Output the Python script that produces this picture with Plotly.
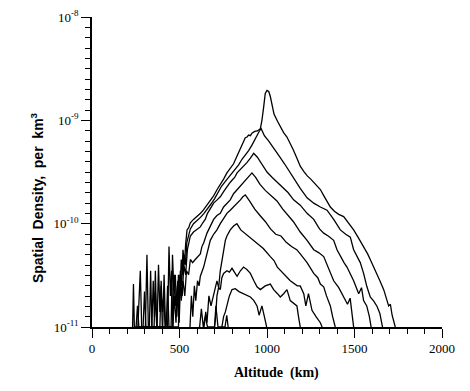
import plotly.graph_objects as go

# ---- data (altitude km, spatial density per km^3) ----
alt_1 = [232, 237, 242, 305, 314, 322, 372, 380, 388, 395, 402, 432, 440, 448, 455, 462, 470, 480, 490, 498,
         505, 512, 520, 528, 535, 543, 552, 562, 580, 600, 620, 636, 655, 676, 695, 715, 735, 752, 771, 790,
         809, 830, 850, 866, 876, 886, 895, 905, 914, 930, 945, 962, 971, 981, 990, 1000, 1010, 1019, 1030, 1040,
         1060, 1076, 1095, 1114, 1135, 1150, 1171, 1190, 1210, 1230, 1250, 1275, 1305, 1325, 1343, 1362, 1385, 1410, 1438, 1465,
         1495, 1520, 1552, 1575, 1590, 1610, 1629, 1645, 1667, 1680, 1695, 1705, 1715, 1733]
dens_1 = [1.0e-11, 2.6e-11, 1.0e-11, 1.0e-11, 5.0e-11, 1.0e-11, 1.0e-11, 4.0e-11, 1.4e-11, 2.5e-11, 1.0e-11, 1.0e-11, 6.0e-11, 2.0e-11, 3.5e-11, 1.0e-11, 2.0e-11, 1.1e-11, 2.8e-11, 1.6e-11,
          3.5e-11, 2.5e-11, 5.6e-11, 4.0e-11, 6.3e-11, 8.7e-11, 9.1e-11, 1.02e-10, 1.1e-10, 1.17e-10, 1.26e-10, 1.35e-10, 1.5e-10, 1.7e-10, 1.86e-10, 2.14e-10, 2.4e-10, 2.7e-10, 3.1e-10, 3.47e-10,
          3.8e-10, 4.57e-10, 5.5e-10, 6.2e-10, 6.8e-10, 6.9e-10, 7.2e-10, 7.1e-10, 7.5e-10, 7.8e-10, 7.9e-10, 8.3e-10, 1.0e-9, 1.35e-9, 1.82e-9, 1.95e-9, 1.9e-9, 1.7e-9, 1.35e-9, 1.15e-9,
          9.8e-10, 8.7e-10, 7.6e-10, 6.9e-10, 5.9e-10, 5.2e-10, 4.3e-10, 3.6e-10, 3.2e-10, 2.9e-10, 2.7e-10, 2.45e-10, 2.14e-10, 1.86e-10, 1.66e-10, 1.45e-10, 1.32e-10, 1.23e-10, 1.17e-10, 1.02e-10,
          8.7e-11, 7.4e-11, 6.0e-11, 5.1e-11, 4.5e-11, 3.8e-11, 3.3e-11, 2.8e-11, 2.3e-11, 1.9e-11, 1.6e-11, 1.66e-11, 1.3e-11, 1.0e-11]

alt_2 = [262, 268, 276, 284, 342, 350, 357, 362, 370, 404, 412, 420, 452, 460, 468, 476, 485, 494, 502, 510,
         518, 526, 534, 542, 552, 562, 580, 600, 620, 640, 660, 680, 700, 720, 740, 762, 780, 800, 820, 838,
         857, 876, 895, 914, 930, 943, 955, 967, 985, 1010, 1040, 1070, 1100, 1130, 1160, 1190, 1229, 1267, 1305, 1343,
         1381, 1419, 1450, 1476, 1495, 1533, 1552, 1571, 1590, 1610, 1629, 1645, 1660]
dens_2 = [1.0e-11, 1.8e-11, 3.5e-11, 1.0e-11, 1.0e-11, 2.8e-11, 1.26e-11, 2.2e-11, 1.0e-11, 1.0e-11, 3.2e-11, 1.0e-11, 1.0e-11, 5.0e-11, 2.2e-11, 3.2e-11, 1.26e-11, 3.2e-11, 2.0e-11, 4.5e-11,
          3.2e-11, 5.0e-11, 4.0e-11, 6.6e-11, 7.9e-11, 8.9e-11, 1.0e-10, 1.07e-10, 1.15e-10, 1.26e-10, 1.38e-10, 1.55e-10, 1.74e-10, 2.0e-10, 2.3e-10, 2.57e-10, 2.8e-10, 3.1e-10, 3.4e-10, 3.7e-10,
          4.2e-10, 4.6e-10, 5.1e-10, 5.75e-10, 6.5e-10, 7.2e-10, 7.8e-10, 8.3e-10, 7.1e-10, 6.3e-10, 5.25e-10, 4.5e-10, 3.8e-10, 3.16e-10, 2.63e-10, 2.2e-10, 1.78e-10, 1.58e-10, 1.45e-10, 1.35e-10,
          1.1e-10, 8.7e-11, 7.9e-11, 7.4e-11, 5.6e-11, 4.2e-11, 3.3e-11, 2.45e-11, 1.95e-11, 1.78e-11, 1.58e-11, 1.35e-11, 1.0e-11]

alt_3 = [292, 300, 308, 328, 335, 342, 388, 395, 402, 410, 418, 462, 470, 478, 488, 498, 506, 515, 525, 535,
         545, 555, 562, 580, 600, 619, 633, 647, 660, 675, 695, 715, 733, 752, 771, 785, 800, 815, 829, 845,
         866, 885, 905, 924, 945, 970, 1000, 1030, 1060, 1090, 1120, 1152, 1190, 1229, 1267, 1300, 1324, 1350, 1381, 1400,
         1419, 1440, 1457, 1480, 1495, 1524, 1540, 1552, 1570, 1585, 1595]
dens_3 = [1.0e-11, 2.2e-11, 1.0e-11, 1.0e-11, 3.5e-11, 1.0e-11, 1.0e-11, 2.8e-11, 1.4e-11, 2.0e-11, 1.0e-11, 1.0e-11, 3.2e-11, 1.6e-11, 2.5e-11, 1.1e-11, 2.8e-11, 2.0e-11, 4.0e-11, 3.2e-11,
          5.6e-11, 6.6e-11, 7.6e-11, 8.3e-11, 8.9e-11, 9.3e-11, 1.02e-10, 1.1e-10, 1.26e-10, 1.38e-10, 1.58e-10, 1.7e-10, 1.82e-10, 2.04e-10, 2.3e-10, 2.45e-10, 2.63e-10, 2.8e-10, 3.1e-10, 3.3e-10,
          3.55e-10, 3.9e-10, 4.3e-10, 4.8e-10, 4.4e-10, 3.8e-10, 3.16e-10, 2.8e-10, 2.5e-10, 2.24e-10, 2.0e-10, 1.7e-10, 1.51e-10, 1.26e-10, 1.1e-10, 8.9e-11, 8.1e-11, 7.6e-11, 6.9e-11, 5.6e-11,
          4.8e-11, 4.2e-11, 3.8e-11, 3.2e-11, 2.8e-11, 2.1e-11, 2.4e-11, 1.8e-11, 1.6e-11, 1.26e-11, 1.0e-11]

alt_4 = [252, 260, 268, 355, 362, 370, 424, 432, 440, 494, 502, 510, 520, 530, 540, 552, 562, 575, 590, 600,
         610, 619, 628, 638, 657, 676, 695, 714, 733, 752, 771, 790, 809, 830, 848, 866, 886, 900, 914, 935,
         960, 990, 1020, 1057, 1090, 1120, 1150, 1190, 1229, 1267, 1295, 1324, 1350, 1381, 1410, 1438, 1460, 1475, 1486, 1495]
dens_4 = [1.0e-11, 1.6e-11, 1.0e-11, 1.0e-11, 3.5e-11, 1.0e-11, 1.0e-11, 2.5e-11, 1.0e-11, 1.0e-11, 3.2e-11, 1.8e-11, 2.8e-11, 2.0e-11, 3.5e-11, 3.2e-11, 4.5e-11, 4.2e-11, 4.5e-11, 4.7e-11,
          5.0e-11, 5.1e-11, 6.0e-11, 6.5e-11, 8.1e-11, 9.3e-11, 1.1e-10, 1.2e-10, 1.26e-10, 1.45e-10, 1.58e-10, 1.7e-10, 1.95e-10, 2.14e-10, 2.3e-10, 2.5e-10, 2.75e-10, 2.95e-10, 3.1e-10, 2.8e-10,
          2.4e-10, 2.1e-10, 1.9e-10, 1.66e-10, 1.38e-10, 1.2e-10, 1.05e-10, 8.3e-11, 6.9e-11, 5.6e-11, 5.25e-11, 4.8e-11, 3.8e-11, 2.8e-11, 2.4e-11, 1.95e-11, 1.66e-11, 1.9e-11, 1.35e-11, 1.0e-11]

alt_5 = [560, 568, 576, 585, 593, 603, 612, 619, 638, 657, 676, 695, 714, 733, 752, 771, 790, 809, 830, 848,
         862, 876, 900, 930, 960, 990, 1020, 1050, 1080, 1110, 1140, 1170, 1190, 1229, 1267, 1290, 1305, 1324, 1340, 1362,
         1375, 1390]
dens_5 = [1.0e-11, 2.0e-11, 1.26e-11, 2.5e-11, 1.8e-11, 2.8e-11, 2.5e-11, 3.1e-11, 3.8e-11, 5.1e-11, 6.9e-11, 7.9e-11, 8.7e-11, 1.0e-10, 1.12e-10, 1.26e-10, 1.35e-10, 1.45e-10, 1.58e-10, 1.7e-10,
          1.82e-10, 1.9e-10, 1.66e-10, 1.38e-10, 1.2e-10, 1.05e-10, 8.9e-11, 7.9e-11, 7.6e-11, 6.6e-11, 6.0e-11, 5.6e-11, 5.1e-11, 4.2e-11, 3.3e-11, 3.0e-11, 2.6e-11, 2.45e-11, 2.0e-11, 1.6e-11,
          1.26e-11, 1.0e-11]

alt_6 = [700, 705, 714, 724, 733, 743, 752, 762, 771, 790, 809, 828, 850, 880, 922, 950, 979, 1019, 1040, 1059,
         1093, 1133, 1173, 1190, 1210, 1222, 1237, 1257, 1280, 1305, 1315]
dens_6 = [1.0e-11, 1.17e-11, 2.0e-11, 2.45e-11, 3.5e-11, 4.5e-11, 5.6e-11, 6.9e-11, 7.6e-11, 8.7e-11, 9.5e-11, 1.0e-10, 8.7e-11, 7.9e-11, 6.9e-11, 6.3e-11, 5.75e-11, 4.8e-11, 4.4e-11, 3.8e-11,
          3.3e-11, 2.8e-11, 2.5e-11, 2.5e-11, 2.1e-11, 1.6e-11, 2.1e-11, 1.45e-11, 1.26e-11, 1.1e-11, 1.0e-11]

alt_7 = [640, 650, 657, 668, 680, 695, 705, 714, 724, 733, 742, 752, 771, 785, 800, 815, 829, 848, 866, 885,
         905, 925, 943, 962, 990, 1019, 1038, 1060, 1076, 1095, 1114, 1133, 1150, 1171, 1180, 1190]
dens_7 = [1.0e-11, 1.4e-11, 1.1e-11, 2.0e-11, 1.6e-11, 2.1e-11, 2.5e-11, 2.8e-11, 2.4e-11, 2.3e-11, 3.0e-11, 3.3e-11, 3.5e-11, 3.4e-11, 3.7e-11, 3.4e-11, 3.1e-11, 3.5e-11, 3.8e-11, 3.6e-11,
          3.3e-11, 2.8e-11, 2.45e-11, 2.3e-11, 2.5e-11, 2.6e-11, 2.3e-11, 2.1e-11, 1.95e-11, 2.1e-11, 2.3e-11, 1.8e-11, 1.7e-11, 1.6e-11, 1.26e-11, 1.0e-11]

alt_8 = [742, 747, 752, 762, 771, 785, 800, 819, 840, 866, 885, 905, 925, 943, 955, 971, 985, 998]
dens_8 = [1.0e-11, 1.1e-11, 1.26e-11, 1.4e-11, 1.6e-11, 2.0e-11, 2.3e-11, 2.35e-11, 2.2e-11, 2.1e-11, 2.0e-11, 1.95e-11, 1.8e-11, 1.6e-11, 1.3e-11, 1.6e-11, 1.26e-11, 1.0e-11]

alt_9 = [615, 625, 636, 647, 660, 700, 708, 720, 760, 770, 778]
dens_9 = [1.0e-11, 1.5e-11, 1.0e-11, 1.26e-11, 1.0e-11, 1.0e-11, 1.6e-11, 1.0e-11, 1.0e-11, 1.3e-11, 1.0e-11]

series = [(alt_1, dens_1), (alt_2, dens_2), (alt_3, dens_3), (alt_4, dens_4), (alt_5, dens_5),
          (alt_6, dens_6), (alt_7, dens_7), (alt_8, dens_8), (alt_9, dens_9)]

y_tick_vals = [1e-11, 1e-10, 1e-9, 1e-8]
y_tick_text = ["10<sup>-11</sup>", "10<sup>-10</sup>", "10<sup>-9</sup>", "10<sup>-8</sup>"]
x_tick_vals = [0, 500, 1000, 1500, 2000]
x_tick_text = ["0", "500", "1000", "1500", "2000"]

fig = go.Figure()
for a, d in series:
    fig.add_trace(go.Scatter(x=a, y=d, mode="lines",
                             line=dict(color="black", width=1.3), hoverinfo="skip"))

serif = "Liberation Serif, Times New Roman, serif"
fig.update_layout(
    width=470, height=391,
    margin=dict(l=92, r=28, t=17, b=64, autoexpand=False),
    paper_bgcolor="white", plot_bgcolor="white",
    showlegend=False,
    font=dict(family=serif, size=12, color="black"),
)
fig.update_xaxes(
    range=[0, 2000], showgrid=False, zeroline=False, automargin=False,
    showline=True, linecolor="black", linewidth=1.6,
    tickmode="array", tickvals=x_tick_vals, ticktext=x_tick_text,
    ticks="outside", ticklen=9, tickwidth=1.4, tickcolor="black",
    tickfont=dict(family=serif, size=13),
    minor=dict(tickmode="linear", tick0=0, dtick=100, ticks="outside", ticklen=5,
               tickwidth=1.2, tickcolor="black", showgrid=False),
)
fig.update_yaxes(
    type="log", range=[-11, -8], showgrid=False, zeroline=False, automargin=False,
    showline=True, linecolor="black", linewidth=1.6,
    tickmode="array", tickvals=y_tick_vals, ticktext=y_tick_text,
    ticks="outside", ticklen=9, tickwidth=1.4, tickcolor="black",
    tickfont=dict(family=serif, size=13),
    minor=dict(tickmode="linear", tick0=0, dtick=0.1, ticks="outside", ticklen=5,
               tickwidth=1.2, tickcolor="black", showgrid=False),
)

fig.add_annotation(text="<b>Altitude  (km)</b>", xref="paper", yref="paper",
                   x=0.528, y=-0.148, xanchor="center", yanchor="middle", showarrow=False,
                   font=dict(family=serif, size=14, color="black"))
fig.add_annotation(text="<b>Spatial  Density,  per  km<sup>3</sup></b>", xref="paper", yref="paper",
                   x=-0.157, y=0.416, xanchor="center", yanchor="middle", showarrow=False, textangle=-90,
                   font=dict(family="Liberation Sans, Arial, sans-serif", size=14, color="black"))

fig.write_html("out.html", config={"displayModeBar": False},
               post_script="document.body.style.margin='0';document.body.style.overflow='hidden';")
